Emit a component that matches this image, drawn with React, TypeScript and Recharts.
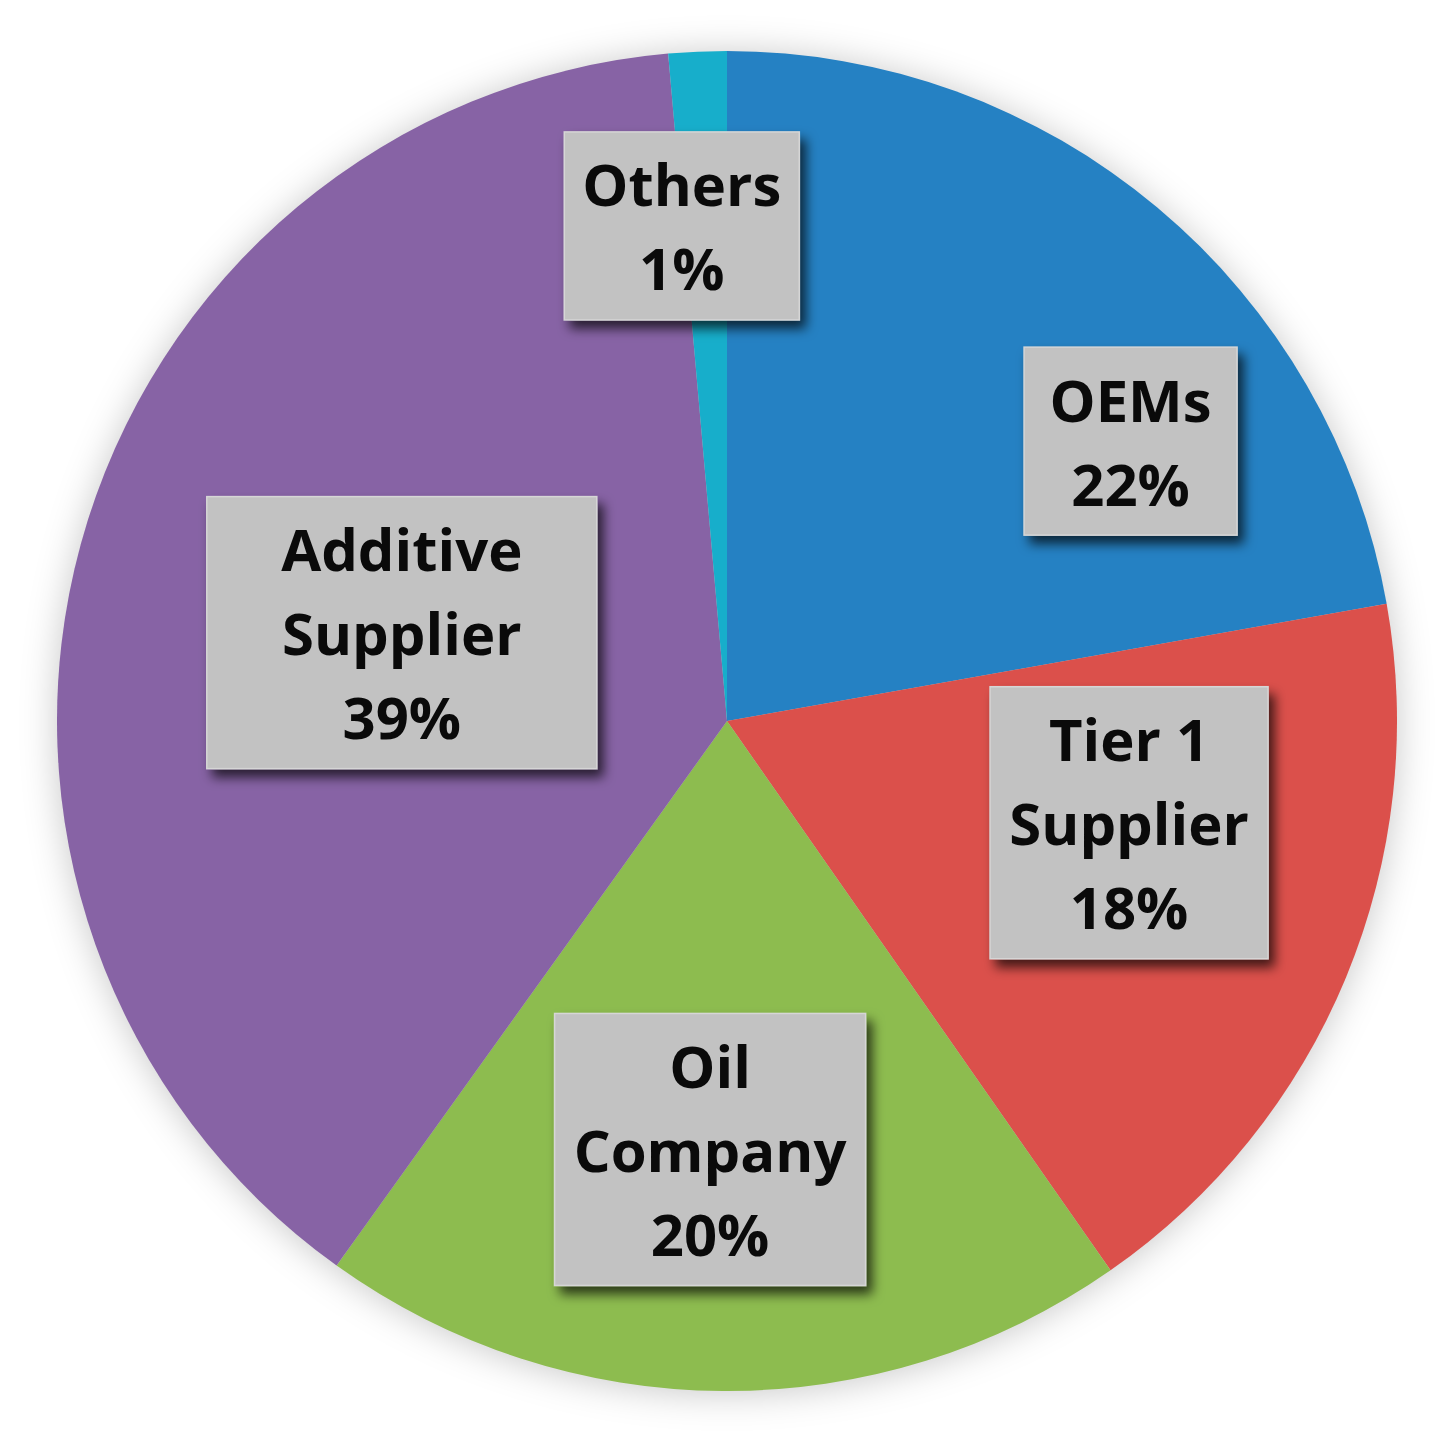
import React from "react";
import { PieChart, Pie, Cell } from "recharts";

const categories = ["OEMs", "Tier 1 Supplier", "Oil Company", "Additive Supplier", "Others"];
const shares = [22.2, 18.1, 19.6, 38.7, 1.4];
const labelLines = [["OEMs"], ["Tier 1", "Supplier"], ["Oil", "Company"], ["Additive", "Supplier"], ["Others"]];
const colors = ["#2581C3", "#DB504B", "#8DBC4F", "#8763A5", "#17AECB"];

// label layout: radius fraction, angle offset from slice mid angle (deg), box width
const labelRadius = [0.733, 0.619, 0.64, 0.503, 0.742];
const labelAngleOffset = [-15.3, 8.3, -1.9, 0.1, 2.7];
const labelBoxWidth = [213, 278, 311, 390, 235];

const data = categories.map((name, i) => ({ name, value: shares[i] }));

const RAD = Math.PI / 180;
const LINE_H = 84;
const FONT = 58;

const renderLabel = (props: any) => {
  const { cx, cy, midAngle, outerRadius, index } = props;
  const ang = (midAngle + labelAngleOffset[index]) * RAD;
  const r = outerRadius * labelRadius[index];
  const x = cx + r * Math.cos(-ang);
  const y = cy + r * Math.sin(-ang);
  const lines = [...labelLines[index], `${Math.round(shares[index])}%`];
  const w = labelBoxWidth[index];
  const h = lines.length * LINE_H + 20;
  const fid = `boxShadow${index}`;
  return (
    <g key={`lbl-${index}`}>
      <defs>
        <filter id={fid} x="-30%" y="-30%" width="160%" height="160%">
          <feDropShadow dx="6" dy="8" stdDeviation="6" floodColor="#000" floodOpacity="0.7" />
        </filter>
      </defs>
      <rect
        x={x - w / 2}
        y={y - h / 2}
        width={w}
        height={h}
        fill="#C2C2C2"
        stroke="#D6D6D6"
        strokeWidth={1.5}
        filter={`url(#${fid})`}
      />
      {lines.map((ln, k) => (
        <text
          key={k}
          x={x}
          y={y + (k - (lines.length - 1) / 2) * LINE_H}
          textAnchor="middle"
          dominantBaseline="central"
          fontFamily="'Open Sans', 'Noto Sans', sans-serif"
          fontWeight={700}
          fontSize={FONT}
          fill="#0A0A0A"
        >
          {ln}
        </text>
      ))}
    </g>
  );
};

export default function App() {
  return (
    <div
      style={{
        position: "absolute",
        left: 0,
        top: 0,
        width: 1436,
        height: 1433,
        background: "#FFFFFF",
      }}
    >
      <div style={{ filter: "drop-shadow(0px 2px 18px rgba(0,0,0,0.22))" }}>
        <PieChart width={1436} height={1433} margin={{ top: 0, right: 0, bottom: 0, left: 0 }}>
          <Pie
            data={data}
            dataKey="value"
            nameKey="name"
            cx={727}
            cy={721}
            outerRadius={670}
            startAngle={90}
            endAngle={-270}
            stroke="none"
            labelLine={false}
            label={renderLabel}
            isAnimationActive={false}
          >
            {data.map((d, i) => (
              <Cell key={d.name} fill={colors[i]} />
            ))}
          </Pie>
        </PieChart>
      </div>
    </div>
  );
}
